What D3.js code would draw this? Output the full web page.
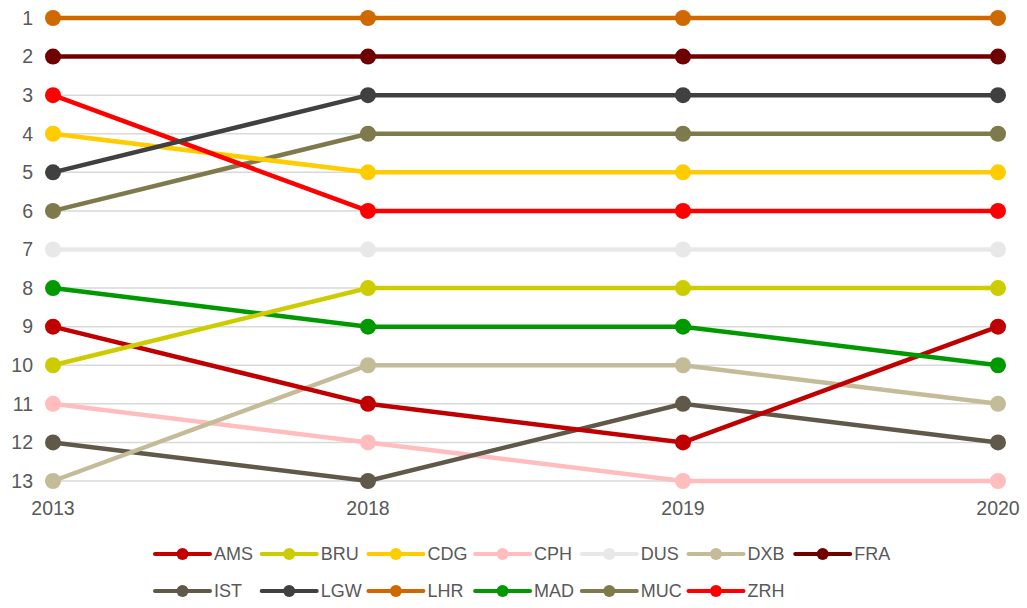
<!DOCTYPE html>
<html>
<head>
<meta charset="utf-8">
<script src="https://cdn.jsdelivr.net/npm/d3@7"></script>
<style>
  body { margin: 0; background: #fff; }
  text { font-family: "Liberation Sans", Arial, sans-serif; fill: #595959; }
</style>
</head>
<body>
<svg width="1027" height="608"></svg>
<script>
var years = ["2013", "2018", "2019", "2020"];
var ranks = [1, 2, 3, 4, 5, 6, 7, 8, 9, 10, 11, 12, 13];
var airports = ["AMS", "BRU", "CDG", "CPH", "DUS", "DXB", "FRA", "IST", "LGW", "LHR", "MAD", "MUC", "ZRH"];
var colors = ["#C00000", "#CCCC00", "#FFCC00", "#FFBDBD", "#E8E8E8", "#C4BC98", "#700000", "#605848", "#404040", "#D06800", "#009900", "#7F7A4C", "#FF0000"];

var AMS = [9, 11, 12, 9];
var BRU = [10, 8, 8, 8];
var CDG = [4, 5, 5, 5];
var CPH = [11, 12, 13, 13];
var DUS = [7, 7, 7, 7];
var DXB = [13, 10, 10, 11];
var FRA = [2, 2, 2, 2];
var IST = [12, 13, 11, 12];
var LGW = [5, 3, 3, 3];
var LHR = [1, 1, 1, 1];
var MAD = [8, 9, 9, 10];
var MUC = [6, 4, 4, 4];
var ZRH = [3, 6, 6, 6];

var values = [AMS, BRU, CDG, CPH, DUS, DXB, FRA, IST, LGW, LHR, MAD, MUC, ZRH];
// draw order: later in list is on top
var drawOrder = ["DUS", "CPH", "IST", "DXB", "AMS", "MAD", "BRU", "MUC", "CDG", "ZRH", "LGW", "FRA", "LHR"];

var svg = d3.select("svg");

var x = d3.scalePoint().domain(years).range([53, 998]);
var y = d3.scaleLinear().domain([1, 13]).range([18, 481]);

// gridlines
svg.append("g")
    .selectAll("line")
    .data(ranks)
    .enter().append("line")
    .attr("x1", 53)
    .attr("x2", 998)
    .attr("y1", d => y(d))
    .attr("y2", d => y(d))
    .style("stroke", "#D9D9D9")
    .style("stroke-width", 1.5);

// y axis labels
svg.append("g")
    .selectAll("text")
    .data(ranks)
    .enter().append("text")
    .attr("x", 33)
    .attr("y", d => y(d))
    .attr("dy", "0.35em")
    .attr("text-anchor", "end")
    .attr("font-size", 19.5)
    .text(d => d);

// x axis labels
svg.append("g")
    .selectAll("text")
    .data(years)
    .enter().append("text")
    .attr("x", d => x(d))
    .attr("y", 508)
    .attr("dy", "0.35em")
    .attr("text-anchor", "middle")
    .attr("font-size", 19.5)
    .text(d => d);

var series = drawOrder.map(function (name) {
    var i = airports.indexOf(name);
    return { name: name, color: colors[i], vals: values[i] };
});

var line = d3.line()
    .x((d, i) => x(years[i]))
    .y(d => y(d));

var groups = svg.append("g")
    .selectAll("g")
    .data(series)
    .enter().append("g");

groups.append("path")
    .attr("d", d => line(d.vals))
    .style("fill", "none")
    .style("stroke", d => d.color)
    .style("stroke-width", 4.5);

groups.selectAll("circle")
    .data(d => d.vals.map((v, i) => ({ v: v, i: i, color: d.color })))
    .enter().append("circle")
    .attr("cx", d => x(years[d.i]))
    .attr("cy", d => y(d.v))
    .attr("r", 8)
    .style("fill", d => d.color);

// legend
var legend = svg.append("g")
    .selectAll("g")
    .data(airports)
    .enter().append("g")
    .attr("transform", function (d, i) {
        var col = i % 7, row = Math.floor(i / 7);
        return "translate(" + (155 + col * 106.7) + "," + (554 + row * 37) + ")";
    });

legend.append("line")
    .attr("x1", 0)
    .attr("x2", 55)
    .style("stroke", (d, i) => colors[i])
    .style("stroke-width", 4)
    .style("stroke-linecap", "round");

legend.append("circle")
    .attr("cx", 27.5)
    .attr("r", 6)
    .style("fill", (d, i) => colors[i]);

legend.append("text")
    .attr("x", 59)
    .attr("dy", "0.35em")
    .attr("font-size", 18)
    .text(d => d);
</script>
</body>
</html>
